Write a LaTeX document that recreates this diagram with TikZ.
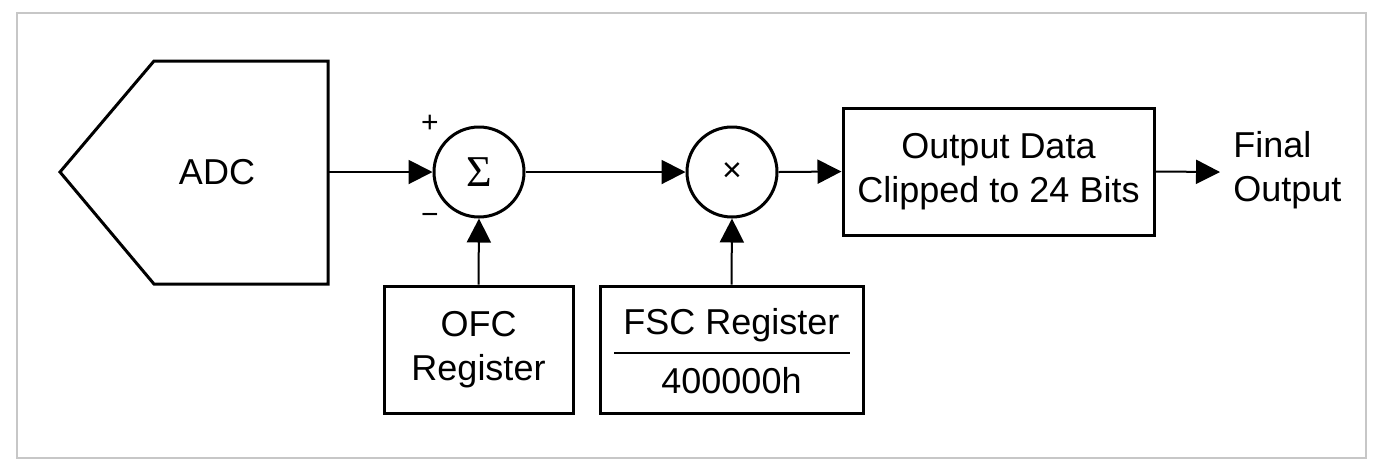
\documentclass[tikz,border=0pt]{standalone}
\usepackage{fontspec}
\setmainfont{Liberation Sans}
\newfontfamily\serifgr{Liberation Serif}
\usetikzlibrary{arrows.meta}
\begin{document}
\begin{tikzpicture}[x=0.5pt,y=-0.5pt,
  font=\fontsize{18}{22}\selectfont,
  blk/.style={draw, line width=1.5pt, minimum height=63.5pt, inner sep=0pt, align=center},
  opc/.style={draw, circle, line width=1.5pt, minimum size=45pt, inner sep=0pt},
  conn/.style={line width=1pt, -{Triangle[length=12pt,width=12pt]}},
  sign/.style={font=\fontsize{15}{16}\selectfont, inner sep=0pt}]
\useasboundingbox (0,0) rectangle (1375,468);
\fill[white] (0,0) rectangle (1375,468);
\draw[black!22, line width=0.6pt] (17,13) rectangle (1366,458);
% ADC
\draw[line width=1.5pt, line join=miter] (60,172) -- (154,61) -- (328,61) -- (328,284) -- (154,284) -- cycle;
\node (adc) at (217,172) {ADC};
\coordinate (adcout) at (328,172);
% summing junction
\node[opc] (sum) at (479,172) {\serifgr\fontsize{22}{22}\selectfont Σ};
\node[sign] (plus) at (430,124) {+};
\node[sign] (minus) at (430,219) {−};
% multiplier
\node[opc] (mul) at (732,172) {\fontsize{17}{18}\selectfont ×};
% OFC register
\node[blk, minimum width=94.5pt] (ofc) at (478.5,349.5) {OFC\\Register};
% FSC register
\node[blk, minimum width=131.5pt] (fsc) at (731.5,349.5) {};
\node[inner sep=0pt] (fsct) at (731.5,325) {FSC Register};
\node[inner sep=0pt] (fscb) at (731.5,381) {400000h};
\draw[line width=1pt] (614,353) -- (850,353);
% output box
\node[blk, minimum width=155.5pt] (out) at (998.5,171.5) {Output Data\\Clipped to 24 Bits};
% final output
\node[anchor=west, align=left, inner sep=0pt] (fin) at (1233,170) {Final\\Output};
\coordinate (finin) at (1220,172);
% connectors
\draw[conn] (adcout) -- (sum.west);
\draw[conn] (ofc.north) -- (sum.south);
\draw[conn] (sum.east) -- (mul.west);
\draw[conn] (fsc.north) -- (mul.south);
\draw[conn] (mul.east) -- (out.west);
\draw[conn] (out.east) -- (finin);
\end{tikzpicture}
\end{document}
